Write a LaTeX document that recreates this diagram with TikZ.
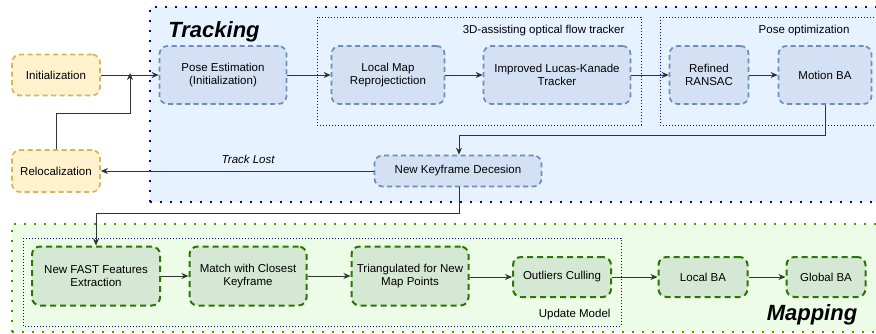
\documentclass[tikz,border=0pt]{standalone}
\usepackage{fontspec}
\setmainfont{Liberation Sans}
\usetikzlibrary{arrows.meta}

\definecolor{trackfill}{HTML}{E6F2FF}
\definecolor{mapfill}{HTML}{EDFCE6}
\definecolor{bluebox}{HTML}{D4E1F5}
\definecolor{blueline}{HTML}{6C8EBF}
\definecolor{greenbox}{HTML}{D5E8D4}
\definecolor{greenline}{HTML}{2D7600}
\definecolor{yellowbox}{HTML}{FFF2CC}
\definecolor{yellowline}{HTML}{D6B656}
\definecolor{dotblue}{HTML}{0000CC}
\definecolor{dotgreen}{HTML}{4D9900}

\tikzset{
	every node/.style={font=\fontsize{11.5}{13.5}\selectfont},
	tbox/.style={draw=blueline,fill=bluebox,line width=1.7pt,dash pattern=on 5pt off 3.5pt,rounded corners=8pt,align=center,inner sep=0pt},
	mbox/.style={draw=greenline,fill=greenbox,line width=2pt,dash pattern=on 6pt off 4pt,rounded corners=8pt,align=center,inner sep=0pt},
	sbox/.style={draw=yellowline,fill=yellowbox,line width=1.7pt,dash pattern=on 5pt off 3.5pt,rounded corners=8pt,align=center,inner sep=0pt},
	group/.style={draw=dotblue,line width=0.7pt,dash pattern=on 0.7pt off 2.3pt},
	flow/.style={draw=black!80,line width=0.8pt,-{Stealth[length=7pt,width=6pt]}},
}

\begin{document}
\begin{tikzpicture}[x=1pt,y=-1pt]
	\useasboundingbox (0,0) rectangle (876,333);
	\clip (0,0) rectangle (876,333);

	% big blocks
	\fill[trackfill] (150,7) rectangle (880,202);
	\draw[dotblue,line width=1.6pt,dash pattern=on 1.6pt off 8.4pt] (150,202) -- (150,7) -- (880,7);
	\draw[dotblue,line width=1.6pt,dash pattern=on 1.6pt off 8.4pt] (150,202) -- (880,202);
	\fill[mapfill] (12,224) rectangle (880,332);
	\draw[dotgreen,line width=1.6pt,dash pattern=on 1.6pt off 8.4pt] (12,332) -- (12,224) -- (880,224);
	\draw[dotgreen,line width=1.6pt,dash pattern=on 1.6pt off 8.4pt] (12,332) -- (880,332);

	% sub groups
	\draw[group] (317,17) rectangle (641,125);
	\draw[group] (660,17) rectangle (884,125);
	\draw[group] (23,238) rectangle (621,326);

	\node[font=\fontsize{22}{24}\selectfont\bfseries\itshape] at (214,32) {Tracking};
	\node[font=\fontsize{22}{24}\selectfont\bfseries\itshape] at (812,315) {Mapping};
	\node[anchor=east] at (628,31) {3D-assisting optical flow tracker};
	\node[anchor=east] at (853,31) {Pose optimization};
	\node[anchor=east] at (614,315) {Update Model};

	% tracking thread
	\node[sbox,minimum width=88pt,minimum height=41pt] (init) at (56,75) {Initialization};
	\node[sbox,minimum width=88pt,minimum height=42pt] (reloc) at (56,171) {Relocalization};
	\node[tbox,minimum width=127pt,minimum height=58pt] (pose) at (223,75) {Pose Estimation\\(Initialization)};
	\node[tbox,minimum width=113pt,minimum height=58pt] (lmr) at (388,75) {Local Map\\Reprojectiction};
	\node[tbox,minimum width=147pt,minimum height=58pt] (lk) at (557,75) {Improved Lucas-Kanade\\Tracker};
	\node[tbox,minimum width=79pt,minimum height=58pt] (ransac) at (709,75) {Refined\\RANSAC};
	\node[tbox,minimum width=93pt,minimum height=58pt] (mba) at (825,75) {Motion BA};
	\node[tbox,minimum width=167pt,minimum height=31pt] (kf) at (458,171) {New Keyframe Decesion};

	% mapping thread
	\node[mbox,minimum width=128pt,minimum height=59pt] (fast) at (96,276) {New FAST Features\\Extraction};
	\node[mbox,minimum width=117pt,minimum height=59pt] (match) at (248,276) {Match with Closest\\Keyframe};
	\node[mbox,minimum width=117pt,minimum height=59pt] (tri) at (410,276) {Triangulated for New\\Map Points};
	\node[mbox,minimum width=98pt,minimum height=40pt] (cull) at (562,277) {Outliers Culling};
	\node[mbox,minimum width=89pt,minimum height=40pt] (lba) at (703,277) {Local BA};
	\node[mbox,minimum width=79pt,minimum height=40pt] (gba) at (826,277) {Global BA};

	\coordinate (join) at (130,75);

	% connectors
	\draw[flow] (init) -- (pose);
	\draw[flow] (reloc.north) |- (130,113) -- ([yshift=2pt]join);
	\draw[flow] (pose) -- (lmr);
	\draw[flow] (lmr) -- (lk);
	\draw[flow] (lk) -- (ransac);
	\draw[flow] (ransac) -- (mba);
	\draw[flow] (mba.south) |- (459,135) -- ([xshift=1pt]kf.north);
	\draw[flow] (kf) -- node[above=4pt,font=\fontsize{11.5}{13.5}\selectfont\itshape,pos=0.46] {Track Lost} (reloc);
	\draw[flow] ([xshift=1pt]kf.south) |- (96,213) -- (fast.north);
	\draw[flow] (fast) -- (match);
	\draw[flow] (match) -- (tri);
	\draw[flow] (tri.east |- cull) -- (cull);
	\draw[flow] (cull) -- (lba);
	\draw[flow] (lba) -- (gba);
\end{tikzpicture}
\end{document}
